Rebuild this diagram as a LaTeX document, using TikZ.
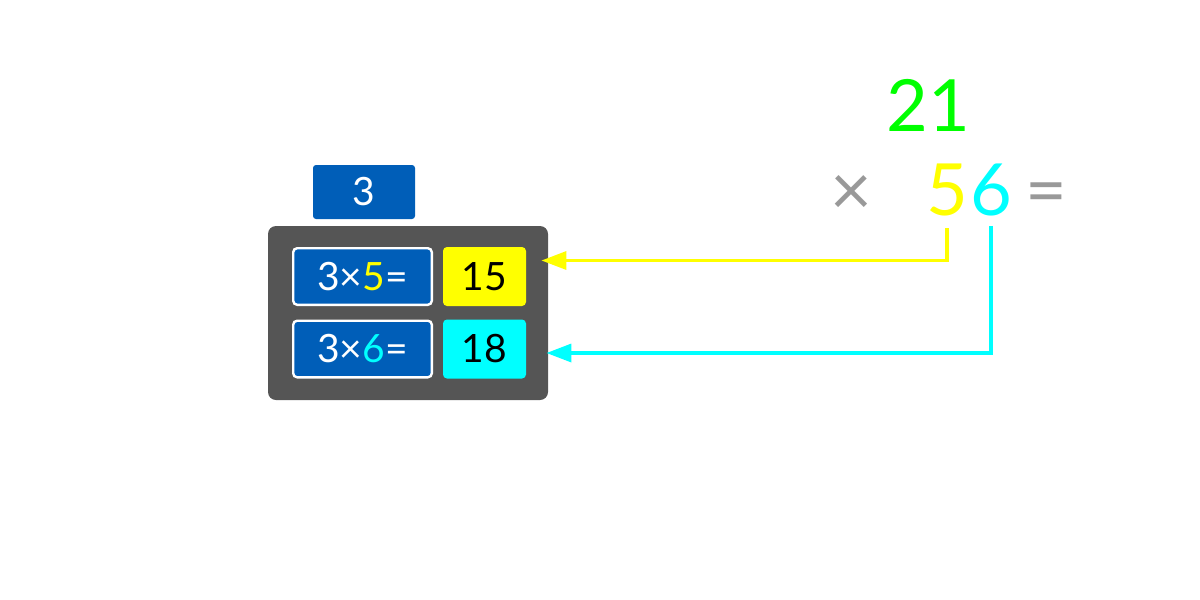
\documentclass[tikz,border=0pt]{standalone}
\usepackage{fontspec}
\setmainfont{Lato}
\usepackage{xcolor}
\usepackage{tikz}
\usetikzlibrary{arrows.meta}
\definecolor{tileblue}{RGB}{0,94,184}
\definecolor{framegray}{RGB}{85,85,85}
\definecolor{signgray}{RGB}{153,153,153}
\definecolor{digyellow}{RGB}{255,255,0}
\definecolor{digcyan}{RGB}{0,255,255}
\definecolor{diggreen}{RGB}{0,255,0}
\tikzstyle{bigdigit}=[inner sep=0pt,anchor=base,font=\fontsize{36}{40}\selectfont]
\tikzstyle{tile}=[rectangle,inner sep=0pt,text=white,fill=tileblue,
font=\fontsize{19.5}{22}\selectfont]
\tikzstyle{eqtile}=[tile,draw=white,line width=1.2pt,rounded corners=2pt,
minimum width=69.3pt,minimum height=28.3pt]
\tikzstyle{prodtile}=[rectangle,inner sep=0pt,rounded corners=2pt,text=black,
minimum width=41.5pt,minimum height=29.5pt,font=\fontsize{19.5}{22}\selectfont]
\tikzstyle{feed} = [line width=1.7pt,-{Triangle[length=12.5pt,width=9pt]}]

\begin{document}
\begin{tikzpicture}[x=0.5pt,y=-0.5pt]
\useasboundingbox (0,0) rectangle (1200,600);
	% the sum on the right
	\node[bigdigit,text=diggreen] (top) at (928,131) {21};
	\node[bigdigit,text=signgray] (times) at (851,215) {×};
	\node[bigdigit,text=digyellow] (d5) at (947,215) {5};
	\node[bigdigit,text=digcyan] (d6) at (991,215) {6};
	\node[bigdigit,text=signgray] (eq) at (1046,215) {=};
	
	% the multiplier and its frame
	\node[tile,rounded corners=1.5pt,minimum width=51pt,minimum height=27pt]
	(mult) at (364,192) {3};
	\node[rectangle,fill=framegray,rounded corners=4pt,
	minimum width=140pt,minimum height=87pt] (frame) at (408,313) {};
	
	\node[eqtile] (q5) at (362.5,276.5) {3×\textcolor{digyellow}{5}=};
	\node[prodtile,fill=digyellow] (p15) at (484.5,276.5) {15};
	\node[eqtile] (q6) at (362.5,349) {3×\textcolor{digcyan}{6}=};
	\node[prodtile,fill=digcyan] (p18) at (484.5,349) {18};
	
	% where the arrows start and end
	\coordinate (s5) at ([yshift=-6pt]d5.south);
	\coordinate (s6) at ([yshift=-5pt]d6.south);
	\coordinate (e5) at ([xshift=-3.5pt,yshift=8pt]frame.east |- p15.east);
	\coordinate (e6) at ([xshift=-1pt,yshift=-2pt]frame.east |- p18.east);
	
	\draw[feed,digyellow] (s5) |- (e5);
	\draw[feed,digcyan] (s6) |- (e6);
\end{tikzpicture}
\end{document}
